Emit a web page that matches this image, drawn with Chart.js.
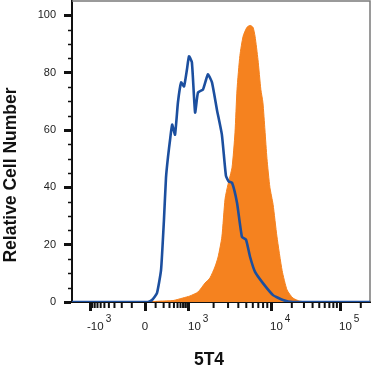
<!DOCTYPE html>
<html>
<head>
<meta charset="utf-8">
<script src="https://cdn.jsdelivr.net/npm/chart.js@4"></script>
<style>
  html, body { margin: 0; padding: 0; background: #fff; }
</style>
</head>
<body>
<canvas id="histChart" width="372" height="373"></canvas>
<script>
// display channels (0-1024) and relative cell counts
const isotypeChannels = [0, 233, 261, 275, 292, 306, 316, 323, 330, 337, 344, 354, 364, 375, 385, 395, 402, 412, 423, 433, 450, 467, 481, 498, 515, 529, 539, 550, 567, 584, 598, 612, 629, 656, 691, 725, 759, 1024];
const isotypeCounts = [0, 0, 0, 0.7, 3.1, 11.2, 28.7, 43.4, 50.7, 56.6, 61.9, 58.4, 69.6, 76.6, 75.2, 81.1, 85.7, 83.6, 66.1, 73.1, 74.1, 79.4, 76.6, 67.1, 58.4, 44, 42, 41.6, 34.6, 22.7, 21.7, 15.7, 10.5, 6.6, 2.4, 0.7, 0, 0];

const stainedChannels = [0, 251, 302, 347, 381, 405, 433, 457, 474, 491, 502, 515, 526, 536, 550, 560, 567, 577, 588, 601, 612, 622, 629, 639, 649, 656, 663, 670, 680, 691, 704, 722, 739, 759, 783, 818, 1024];
const stainedCounts = [0, 0, 0.3, 0.5, 1.4, 2.1, 3.5, 6.6, 8.4, 12.2, 15.7, 22.7, 36, 41, 47, 59, 74, 86, 92.7, 95.8, 96.5, 95.8, 92.7, 84.6, 74.1, 69.6, 60, 50, 40, 34, 23, 11, 4.2, 1.4, 0.3, 0, 0];

// logicle-ish x axis: fluorescence decades and where they sit in channels
const decadeValues = [-1000, 0, 1000, 10000, 100000];
const decadeChannels = [62, 251, 402, 684, 921];
const decadeBases = ['-10', '0', '10', '10', '10'];
const decadeExps = ['3', '', '3', '4', '5'];

const yMajor = [0, 20, 40, 60, 80, 100];

function toChannel(v) {
  const t = x => Math.asinh(x / 150);
  let i = 0;
  while (i < decadeValues.length - 2 && v > decadeValues[i + 1]) i++;
  const a = t(decadeValues[i]), b = t(decadeValues[i + 1]);
  return decadeChannels[i] + (t(v) - a) / (b - a) * (decadeChannels[i + 1] - decadeChannels[i]);
}

// minor ticks between the decades
const xMinor = [];
for (let k = 1; k <= 9; k++) { xMinor.push(-k * 100, k * 100); }
for (let k = 2; k <= 9; k++) { xMinor.push(k * 1000, k * 10000); }
xMinor.push(200000);
const yMinor = [];
for (let v = 5; v < 105; v += 5) { if (v % 20) yMinor.push(v); }

const font = "'Liberation Sans', Arial, sans-serif";

const extras = {
  id: 'extras',
  beforeDatasetsDraw(chart) {
    const { ctx, chartArea: a } = chart;
    ctx.save();
    ctx.strokeStyle = '#7a7a7a';
    ctx.lineWidth = 1.5;
    ctx.beginPath();
    ctx.moveTo(a.left, a.top);
    ctx.lineTo(a.right, a.top);
    ctx.lineTo(a.right, a.bottom);
    ctx.stroke();
    ctx.restore();
  },
  afterDraw(chart) {
    const { ctx, chartArea: a } = chart;
    const xs = chart.scales.x, ys = chart.scales.y;
    ctx.save();
    ctx.strokeStyle = '#111';
    // minor ticks
    ctx.lineWidth = 1.5;
    yMinor.forEach(v => {
      const y = Math.round(ys.getPixelForValue(v)) + 0.5;
      ctx.beginPath(); ctx.moveTo(a.left - 4, y); ctx.lineTo(a.left, y); ctx.stroke();
    });
    ctx.lineWidth = 2;
    xMinor.forEach(v => {
      const x = xs.getPixelForValue(toChannel(v));
      if (x > a.right) return;
      ctx.beginPath(); ctx.moveTo(x, a.bottom); ctx.lineTo(x, a.bottom + 6); ctx.stroke();
    });
    // x tick labels with exponents
    ctx.fillStyle = '#222';
    ctx.textBaseline = 'middle';
    decadeChannels.forEach((c, i) => {
      const x = xs.getPixelForValue(c);
      if (!decadeExps[i]) {
        ctx.font = '11.5px ' + font;
        ctx.textAlign = 'center';
        ctx.fillText(decadeBases[i], x, a.bottom + 25);
        return;
      }
      ctx.font = '11.5px ' + font;
      ctx.textAlign = 'left';
      const x0 = x - (decadeBases[i].length > 2 ? 3 : 1);
      ctx.fillText(decadeBases[i], x0, a.bottom + 25);
      const w = ctx.measureText(decadeBases[i]).width;
      ctx.font = '10px ' + font;
      ctx.fillText(decadeExps[i], x0 + w + 2, a.bottom + 17);
    });
    // axis titles
    ctx.fillStyle = '#111';
    ctx.font = 'bold 17.5px ' + font;
    ctx.textAlign = 'center';
    ctx.fillText('5T4', 209, 360);
    ctx.translate(11, 175);
    ctx.rotate(-Math.PI / 2);
    ctx.fillText('Relative Cell Number', 0, 0);
    ctx.restore();
  }
};

new Chart(document.getElementById('histChart').getContext('2d'), {
  type: 'line',
  data: {
    datasets: [
      {
        label: 'Isotype',
        data: isotypeChannels.map((c, i) => ({ x: c, y: isotypeCounts[i] })),
        borderColor: '#1c4f9f',
        borderWidth: 2.6,
        pointRadius: 0,
        tension: 0.15,
        fill: false
      },
      {
        label: '5T4',
        data: stainedChannels.map((c, i) => ({ x: c, y: stainedCounts[i] })),
        borderColor: '#f5821f',
        backgroundColor: '#f5821f',
        borderWidth: 1,
        pointRadius: 0,
        tension: 0.2,
        fill: 'origin'
      }
    ]
  },
  options: {
    responsive: false,
    animation: false,
    devicePixelRatio: 1,
    layout: { padding: { top: 1, right: 2, left: 0, bottom: 0 } },
    plugins: {
      legend: { display: false },
      tooltip: { enabled: false }
    },
    scales: {
      x: {
        type: 'linear',
        min: 0,
        max: 1024,
        afterBuildTicks: scale => { scale.ticks = decadeChannels.map(v => ({ value: v })); },
        afterFit: scale => { scale.height = 71; scale.paddingLeft = 0; scale.paddingRight = 0; },
        ticks: { display: false },
        grid: { drawOnChartArea: false, tickLength: 9, tickWidth: 3, tickColor: '#111' },
        border: { color: '#111', width: 2 }
      },
      y: {
        min: 0,
        max: 105,
        afterBuildTicks: scale => { scale.ticks = yMajor.map(v => ({ value: v })); },
        afterFit: scale => { scale.width = 72; scale.paddingTop = 0; scale.paddingBottom = 0; },
        ticks: { color: '#222', padding: 8, font: { family: font, size: 11 } },
        grid: { drawOnChartArea: false, tickLength: 8, tickWidth: 3, tickColor: '#111' },
        border: { color: '#111', width: 2 }
      }
    }
  },
  plugins: [extras]
});
</script>
</body>
</html>
